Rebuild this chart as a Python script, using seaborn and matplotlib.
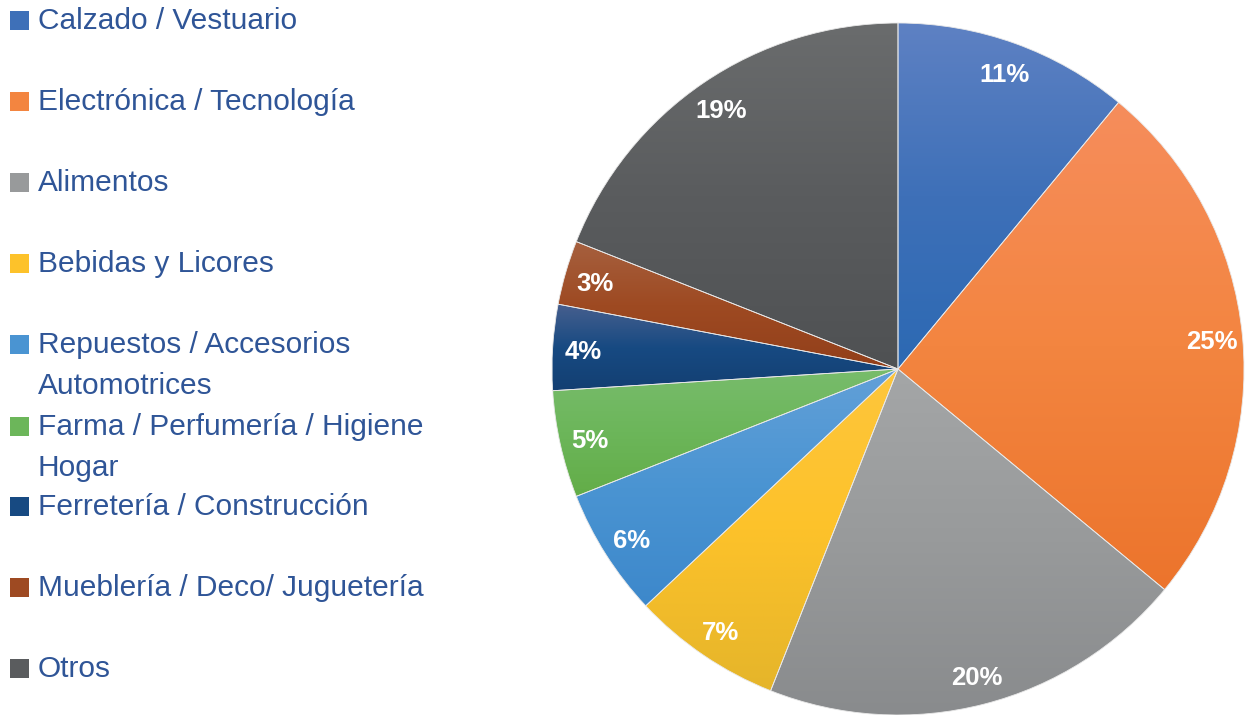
import numpy as np
import matplotlib
matplotlib.use("Agg")
import matplotlib.pyplot as plt
import seaborn as sns
from matplotlib.colors import to_rgb
from matplotlib.patches import Rectangle

# data (clockwise from 12 o'clock)
categories = ["Calzado / Vestuario", "Electrónica / Tecnología", "Alimentos",
              "Bebidas y Licores", "Repuestos / Accesorios\nAutomotrices",
              "Farma / Perfumería / Higiene\nHogar", "Ferretería / Construcción",
              "Mueblería / Deco/ Juguetería", "Otros"]
shares = [11, 25, 20, 7, 6, 5, 4, 3, 19]

# gradient stops per slice: top, middle, bottom
grad_top = ["#5E81C3", "#F68D5C", "#A4A6A7", "#FEC63C", "#62A0D8", "#78BC6C", "#475F8E", "#A6603F", "#6A6C6D"]
grad_mid = ["#3E70B8", "#F38540", "#989A9B", "#FDC22A", "#4A94D2", "#6CB65A", "#174A82", "#9E4A22", "#5A5C5E"]
grad_bot = ["#2C69B3", "#EC742C", "#898B8D", "#E5B52A", "#3D88CB", "#63AD48", "#133F72", "#923F1A", "#4F5153"]

text_blue = "#2F5597"

sns.set_style("white")
plt.rcParams['font.family'] = ['Liberation Sans', 'DejaVu Sans']

W, H = 1245, 715
fig = plt.figure(figsize=(W / 100, H / 100), dpi=100)
ax = fig.add_axes([0, 0, 1, 1])

cx, cy, R = 898, H - 369, 346
wedges, texts, autotexts = ax.pie(
    shares, center=(cx, cy), radius=R, startangle=90, counterclock=False,
    autopct="%.0f%%", pctdistance=0.912,
    wedgeprops=dict(facecolor="none", edgecolor="#E8E8E8", linewidth=0.6, zorder=2),
    textprops=dict(color="white", fontsize=18.5, fontweight="bold"))
for t in autotexts:
    t.set_zorder(4)
    x, y = t.get_position()
    t.set_position((x, y - 3))

# vertical gradient fill inside each wedge
for w, c0, c1, c2 in zip(wedges, grad_top, grad_mid, grad_bot):
    bb = w.get_path().get_extents()
    s = np.linspace(0, 1, 200)[:, None]  # 0 = bottom, 1 = top
    top, mid, bot = np.array(to_rgb(c0)), np.array(to_rgb(c1)), np.array(to_rgb(c2))
    col = np.where(s < 0.5, bot + (mid - bot) * (s / 0.5), mid + (top - mid) * ((s - 0.5) / 0.5))
    img = ax.imshow(col[:, None, :], origin="lower", aspect="auto",
                    extent=(bb.x0, bb.x1, bb.y0, bb.y1), zorder=1.5,
                    interpolation="bilinear")
    img.set_clip_path(w)

ax.set_xlim(0, W)
ax.set_ylim(0, H)
ax.set_aspect("equal")
ax.axis("off")

# legend, fixed slots of ~81 px
slot_y = [21, 102, 183, 264, 345, 427, 507, 588, 669]
for yy, lab, c in zip(slot_y, categories, grad_mid):
    ax.add_patch(Rectangle((10, H - yy - 9), 19, 19, facecolor=c, edgecolor="none"))
    for k, line in enumerate(lab.split("\n")):
        ax.text(38, H - yy - 41 * k, line, fontsize=21.5, color=text_blue, va="center", ha="left")

fig.savefig("out.png", dpi=100)
